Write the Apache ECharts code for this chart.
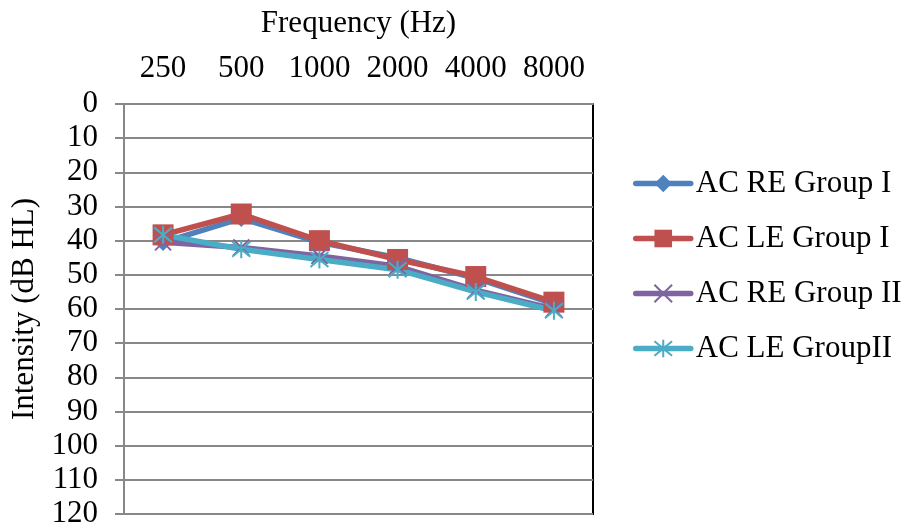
<!DOCTYPE html>
<html>
<head>
<meta charset="utf-8">
<script src="https://cdn.jsdelivr.net/npm/echarts@6/dist/echarts.min.js"></script>
<style>html,body{margin:0;padding:0;background:#fff;}#c{width:905px;height:530px;}</style>
</head>
<body>
<div id="c"></div>
<script>
var categories = ['250', '500', '1000', '2000', '4000', '8000'];
var reGroup1 = [40.5, 33.5, 40.5, 45, 51, 58.5];
var leGroup1 = [38.3, 32.2, 40, 45.5, 50.5, 58];
var reGroup2 = [40.5, 42, 44.5, 47.5, 54.5, 60];
var leGroup2 = [38.3, 42.5, 45.5, 48.5, 55, 60.5];
var seriesNames = ['AC RE Group I', 'AC LE Group I', 'AC RE Group II', 'AC LE GroupII'];

var FONT = '"Liberation Serif", "Times New Roman", serif';
var xPath = 'path://M0,0L10,10M10,0L0,10';
var starPath = 'path://M0,0L10,10M10,0L0,10M5,-1L5,11';

function mk(name, data, color, symbol, size, stroke) {
  return {
    name: name, type: 'line', data: data,
    symbol: symbol, symbolSize: size, showAllSymbol: true,
    lineStyle: {color: color, width: 5.5, cap: 'round', join: 'round'},
    itemStyle: {color: color, borderColor: color, borderWidth: stroke ? 2 : 0},
    emphasis: {disabled: true},
    animation: false
  };
}

var chart = echarts.init(document.getElementById('c'), null, {renderer: 'canvas'});
chart.setOption({
  backgroundColor: '#fff',
  textStyle: {fontFamily: FONT},
  grid: {left: 124, right: 312, top: 104, bottom: 16, show: true, borderColor: '#000', borderWidth: 2, backgroundColor: 'transparent'},
  legend: {
    orient: 'vertical', left: 628, top: 163,
    itemWidth: 55, itemHeight: 22, itemGap: 24,
    lineStyle: {width: 5.5},
    textStyle: {fontFamily: FONT, fontSize: 31, color: '#000', lineHeight: 31},
    data: seriesNames
  },
  xAxis: {
    type: 'category', position: 'top', data: categories, boundaryGap: true,
    name: 'Frequency (Hz)', nameLocation: 'middle', nameGap: 65,
    nameTextStyle: {fontFamily: FONT, fontSize: 31, color: '#000'},
    axisLine: {show: true, lineStyle: {color: '#888', width: 2}},
    axisTick: {show: false},
    axisLabel: {fontFamily: FONT, fontSize: 31, color: '#000', margin: 20, interval: 0},
    splitLine: {show: false}
  },
  yAxis: {
    type: 'value', inverse: true, min: 0, max: 120, interval: 10,
    name: 'Intensity (dB HL)', nameLocation: 'middle', nameGap: 80, nameRotate: 90,
    nameTextStyle: {fontFamily: FONT, fontSize: 31, color: '#000'},
    axisLine: {show: true, lineStyle: {color: '#888', width: 2}},
    axisTick: {show: true, length: 9, lineStyle: {color: '#888', width: 2}},
    axisLabel: {fontFamily: FONT, fontSize: 31, color: '#000', margin: 26},
    splitLine: {show: true, lineStyle: {color: '#888', width: 2}}
  },
  series: [
    mk(seriesNames[0], reGroup1, '#4F81BD', 'diamond', 17, false),
    mk(seriesNames[1], leGroup1, '#C0504D', 'rect', 21, false),
    mk(seriesNames[2], reGroup2, '#8064A2', xPath, 16, true),
    mk(seriesNames[3], leGroup2, '#4BACC6', starPath, 18, true)
  ]
});
</script>
</body>
</html>
